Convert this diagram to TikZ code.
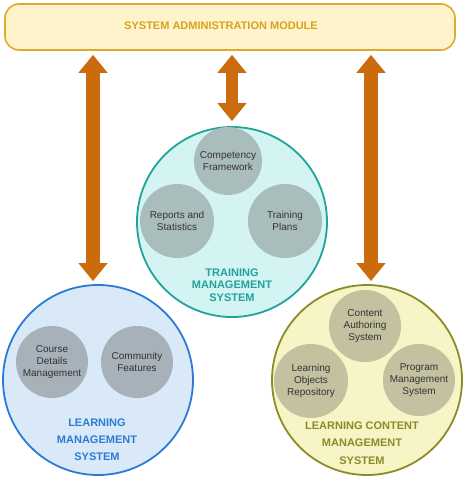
\documentclass[tikz,border=0pt]{standalone}
\usepackage{fontspec}
\setmainfont{Liberation Sans}
\usetikzlibrary{arrows.meta}
\definecolor{samfill}{HTML}{FFF3CC}
\definecolor{samdraw}{HTML}{E0AA30}
\definecolor{samtext}{HTML}{D8A21E}
\definecolor{arrowc}{HTML}{CC6A0E}
\definecolor{tmsfill}{HTML}{D4F4F4}
\definecolor{tmsdraw}{HTML}{1FA39B}
\definecolor{tmssub}{HTML}{A9BDBC}
\definecolor{lmsfill}{HTML}{DAE9F8}
\definecolor{lmsdraw}{HTML}{2B7BD6}
\definecolor{lmssub}{HTML}{A6B1BA}
\definecolor{lcmsfill}{HTML}{F7F4C6}
\definecolor{lcmsdraw}{HTML}{8B8B27}
\definecolor{lcmssub}{HTML}{C3C1A0}
\definecolor{subtext}{HTML}{333333}
\begin{document}
\begin{tikzpicture}[x=1pt,y=-1pt,
  bigarrow/.style={draw=arrowc, line width=14pt,
    {Triangle[length=18pt,width=28pt]}-{Triangle[length=18pt,width=28pt]}},
  bigcircle/.style={circle, line width=1.8pt, minimum size=190pt, inner sep=0pt},
  subcircle/.style={circle, minimum size=#1, inner sep=0pt, align=center,
    text=subtext, font=\fontsize{10}{12}\selectfont},
  syslabel/.style={align=center, font=\bfseries\fontsize{11}{#1}\selectfont}
]
\useasboundingbox (0,0) rectangle (466,480);

% top module
\node[draw=samdraw, fill=samfill, line width=1.6pt, rounded corners=14pt,
      minimum width=450pt, minimum height=46pt, inner sep=0pt] (sam) at (230,27) {};
\node[text=samtext, font=\bfseries\fontsize{11}{13}\selectfont] (samt) at (221,26)
  {SYSTEM ADMINISTRATION MODULE};

% big circles
\node[bigcircle, draw=tmsdraw, fill=tmsfill] (tms) at (232,222) {};
\node[bigcircle, draw=lmsdraw, fill=lmsfill] (lms) at (98,380) {};
\node[bigcircle, draw=lcmsdraw, fill=lcmsfill] (lcms) at (367,380) {};

% TMS sub circles
\node[subcircle=68pt, fill=tmssub] (comp) at (228,161) {Competency\\Framework};
\node[subcircle=74pt, fill=tmssub] (rep) at (177,221) {Reports and\\Statistics};
\node[subcircle=74pt, fill=tmssub] (tp) at (285,221) {Training\\Plans};
\node[syslabel=12.5, text=tmsdraw] (tmsl) at (232,285) {TRAINING\\MANAGEMENT\\SYSTEM};

% LMS sub circles
\node[subcircle=72pt, fill=lmssub] (course) at (52,362) {Course\\Details\\Management};
\node[subcircle=72pt, fill=lmssub] (comm) at (137,362) {Community\\Features};
\node[syslabel=17, text=lmsdraw] (lmsl) at (97,440) {LEARNING\\MANAGEMENT\\SYSTEM};

% LCMS sub circles
\node[subcircle=72pt, fill=lcmssub] (cas) at (365,326) {Content\\Authoring\\System};
\node[subcircle=74pt, fill=lcmssub] (lor) at (311,381) {Learning\\Objects\\Repository};
\node[subcircle=72pt, fill=lcmssub] (pms) at (419,380) {Program\\Management\\System};
\node[syslabel=17.5, text=lcmsdraw] (lcmsl) at (362,443) {LEARNING CONTENT\\MANAGEMENT\\SYSTEM};

% arrows
\draw[bigarrow] ([xshift=-5pt,yshift=-4pt]sam.south -| lms.north) -- ([xshift=-5pt,yshift=3pt]lms.north);
\draw[bigarrow, line width=12pt] ([yshift=-4pt]sam.south -| tms.north) -- ([yshift=5pt]tms.north);
\draw[bigarrow] ([xshift=4pt,yshift=-4pt]sam.south -| lcms.north) -- ([xshift=4pt,yshift=3pt]lcms.north);
\end{tikzpicture}
\end{document}
